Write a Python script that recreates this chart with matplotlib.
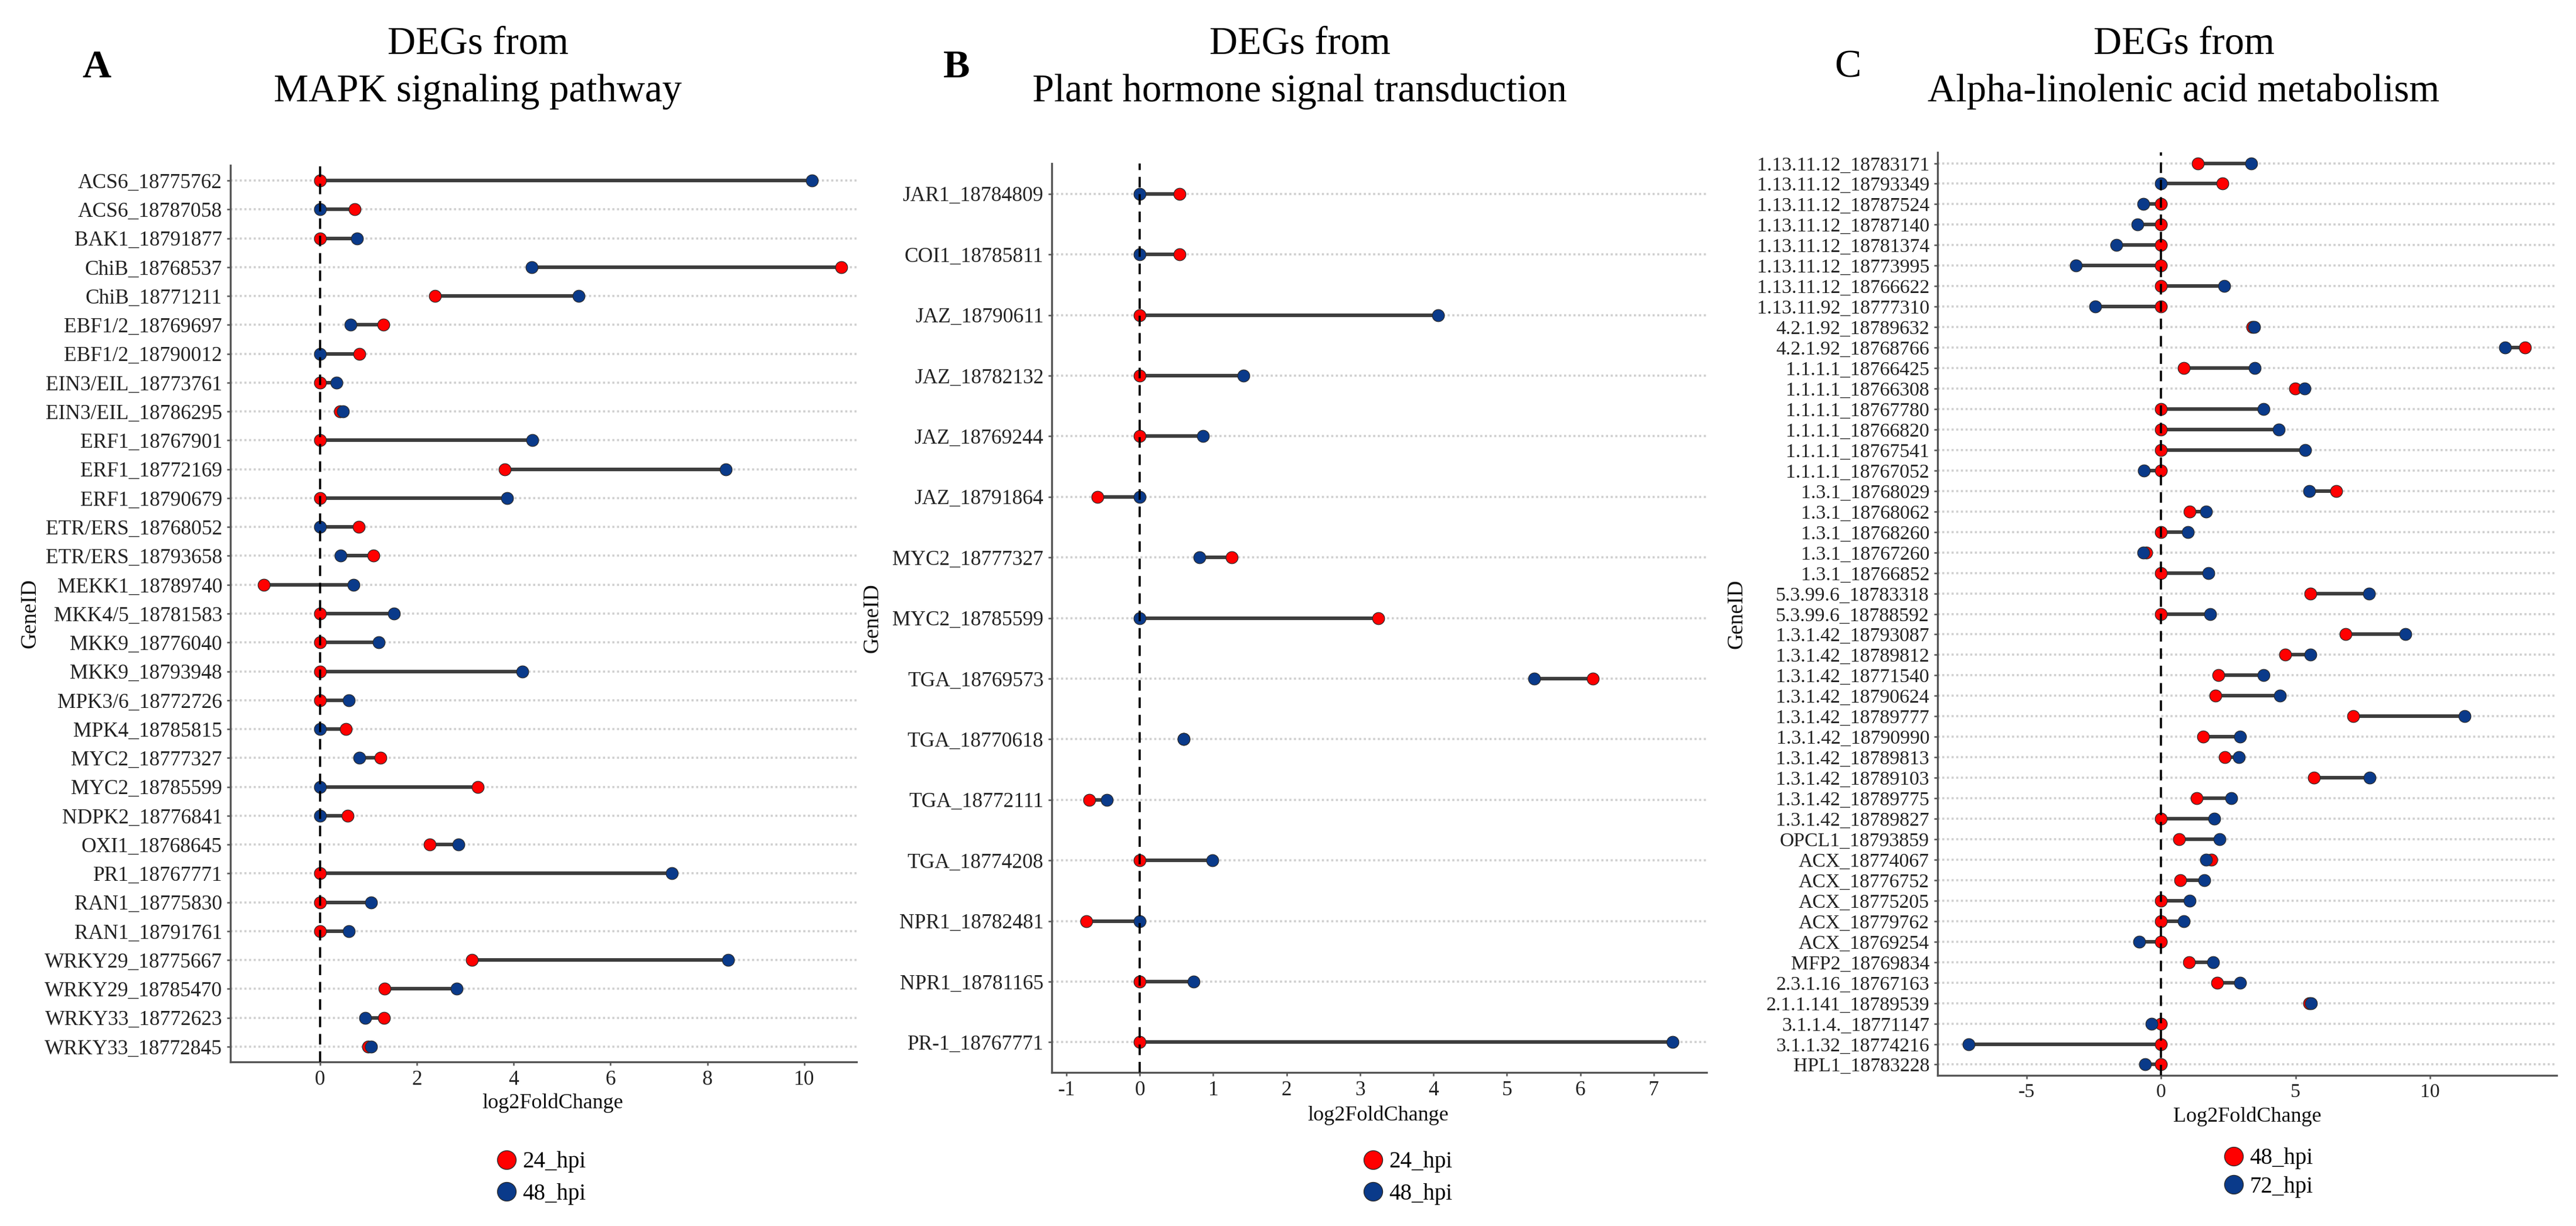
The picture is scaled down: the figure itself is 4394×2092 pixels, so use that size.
import numpy as np
import matplotlib
matplotlib.use('Agg')
import matplotlib.pyplot as plt
from matplotlib.lines import Line2D

plt.rcParams['font.family'] = ['Liberation Serif', 'DejaVu Serif']

# ---------------- data ----------------
genes_A = ["ACS6_18775762", "ACS6_18787058", "BAK1_18791877", "ChiB_18768537", "ChiB_18771211",
           "EBF1/2_18769697", "EBF1/2_18790012", "EIN3/EIL_18773761", "EIN3/EIL_18786295",
           "ERF1_18767901", "ERF1_18772169", "ERF1_18790679", "ETR/ERS_18768052", "ETR/ERS_18793658",
           "MEKK1_18789740", "MKK4/5_18781583", "MKK9_18776040", "MKK9_18793948", "MPK3/6_18772726",
           "MPK4_18785815", "MYC2_18777327", "MYC2_18785599", "NDPK2_18776841", "OXI1_18768645",
           "PR1_18767771", "RAN1_18775830", "RAN1_18791761", "WRKY29_18775667", "WRKY29_18785470",
           "WRKY33_18772623", "WRKY33_18772845"]
hpi24_A = [0.0, 0.72, 0.0, 10.76, 2.37, 1.31, 0.81, 0.0, 0.42, 0.0, 3.81, 0.0, 0.80, 1.10,
           -1.16, 0.0, 0.0, 0.0, 0.0, 0.54, 1.25, 3.26, 0.57, 2.27, 0.0, 0.0, 0.0, 3.14, 1.33,
           1.32, 1.00]
hpi48_A = [10.16, 0.0, 0.76, 4.37, 5.34, 0.63, 0.0, 0.34, 0.47, 4.39, 8.38, 3.87, 0.0, 0.43,
           0.69, 1.53, 1.21, 4.18, 0.59, 0.0, 0.81, 0.0, 0.0, 2.86, 7.27, 1.05, 0.59, 8.43, 2.82,
           0.93, 1.05]

genes_B = ["JAR1_18784809", "COI1_18785811", "JAZ_18790611", "JAZ_18782132", "JAZ_18769244",
           "JAZ_18791864", "MYC2_18777327", "MYC2_18785599", "TGA_18769573", "TGA_18770618",
           "TGA_18772111", "TGA_18774208", "NPR1_18782481", "NPR1_18781165", "PR-1_18767771"]
hpi24_B = [0.54, 0.54, 0.0, 0.0, 0.0, -0.58, 1.25, 3.25, 6.17, 0.60, -0.69, 0.0, -0.73, 0.0, 0.0]
hpi48_B = [0.0, 0.0, 4.06, 1.41, 0.86, 0.0, 0.81, 0.0, 5.37, 0.60, -0.45, 0.99, 0.0, 0.73, 7.26]

genes_C = ["1.13.11.12_18783171", "1.13.11.12_18793349", "1.13.11.12_18787524", "1.13.11.12_18787140",
           "1.13.11.12_18781374", "1.13.11.12_18773995", "1.13.11.12_18766622", "1.13.11.92_18777310",
           "4.2.1.92_18789632", "4.2.1.92_18768766", "1.1.1.1_18766425", "1.1.1.1_18766308",
           "1.1.1.1_18767780", "1.1.1.1_18766820", "1.1.1.1_18767541", "1.1.1.1_18767052",
           "1.3.1_18768029", "1.3.1_18768062", "1.3.1_18768260", "1.3.1_18767260", "1.3.1_18766852",
           "5.3.99.6_18783318", "5.3.99.6_18788592", "1.3.1.42_18793087", "1.3.1.42_18789812",
           "1.3.1.42_18771540", "1.3.1.42_18790624", "1.3.1.42_18789777", "1.3.1.42_18790990",
           "1.3.1.42_18789813", "1.3.1.42_18789103", "1.3.1.42_18789775", "1.3.1.42_18789827",
           "OPCL1_18793859", "ACX_18774067", "ACX_18776752", "ACX_18775205", "ACX_18779762",
           "ACX_18769254", "MFP2_18769834", "2.3.1.16_18767163", "2.1.1.141_18789539",
           "3.1.1.4._18771147", "3.1.1.32_18774216", "HPL1_18783228"]
hpi48_C = [1.37, 2.28, 0.0, 0.0, 0.0, 0.0, 0.0, 0.0, 3.40, 13.53, 0.85, 4.98, 0.0, 0.0, 0.0, 0.0,
           6.51, 1.06, 0.0, -0.55, 0.0, 5.56, 0.0, 6.85, 4.61, 2.14, 2.03, 7.14, 1.56, 2.37, 5.68,
           1.33, 0.0, 0.68, 1.87, 0.71, 0.0, 0.0, 0.0, 1.04, 2.10, 5.50, 0.0, 0.0, 0.0]
hpi72_C = [3.36, 0.0, -0.66, -0.87, -1.66, -3.15, 2.34, -2.45, 3.46, 12.78, 3.49, 5.33, 3.80, 4.38,
           5.35, -0.64, 5.50, 1.68, 1.00, -0.66, 1.76, 7.72, 1.83, 9.09, 5.56, 3.82, 4.42, 11.29,
           2.93, 2.90, 7.76, 2.61, 1.97, 2.18, 1.68, 1.62, 1.06, 0.85, -0.81, 1.93, 2.93, 5.58,
           -0.35, -7.14, -0.60]

titles = ["MAPK signaling pathway", "Plant hormone signal transduction", "Alpha-linolenic acid metabolism"]
panel_letters = ["A", "B", "C"]
legend_A = ["24_hpi", "48_hpi"]
legend_B = ["24_hpi", "48_hpi"]
legend_C = ["48_hpi", "72_hpi"]
xlabels = ["log2FoldChange", "log2FoldChange", "Log2FoldChange"]

RED = '#FF0000'
BLUE = '#0A3A8A'

W, H = 4394, 2092
DPI = 100
fig = plt.figure(figsize=(W / DPI, H / DPI), dpi=DPI)


def rect(l, t, r, b):
    return [l / W, 1 - b / H, (r - l) / W, (b - t) / H]


def fx(x):
    return x / W


def fy(y):
    return 1 - y / H


def panel(box, genes, v1, v2, xlim, xticks, pad, fs):
    ax = fig.add_axes(rect(*box))
    n = len(genes)
    y = np.arange(n)
    v1 = np.asarray(v1)
    v2 = np.asarray(v2)
    ax.set_xlim(*xlim)
    ax.set_ylim(n - 1 + pad, -pad)
    ax.set_yticks(y)
    ax.set_yticklabels(genes)
    ax.set_xticks(xticks)
    ax.set_xticklabels([str(t) for t in xticks])
    ax.grid(axis='y', color='#cfcfcf', lw=2.6, ls=(0, (1.0, 1.2)), zorder=0)
    ax.set_axisbelow(True)
    ax.hlines(y, np.minimum(v1, v2), np.maximum(v1, v2), color='#3d3d3d', lw=4.4, zorder=2,
              capstyle='butt')
    ax.scatter(v1, y, s=220, c=RED, edgecolors='#2a2a2a', linewidths=0.9, zorder=3)
    ax.scatter(v2, y, s=220, c=BLUE, edgecolors='#2a2a2a', linewidths=0.9, zorder=4)
    ax.axvline(0, color='black', lw=2.6, ls=(0, (5, 3.2)), zorder=5)
    for s in ['top', 'right']:
        ax.spines[s].set_visible(False)
    for s in ['left', 'bottom']:
        ax.spines[s].set_color('#555555')
        ax.spines[s].set_linewidth(2.4)
    ax.tick_params(axis='both', which='major', length=4, width=1.8, color='#555555',
                   labelcolor='#222222', labelsize=fs, pad=6)
    return ax


axA = panel((393, 282, 1461, 1812), genes_A, hpi24_A, hpi48_A, (-1.85, 11.08),
            [0, 2, 4, 6, 8, 10], 0.53, 25.5)
axB = panel((1794, 279, 2911, 1830), genes_B, hpi24_B, hpi48_B, (-1.20, 7.72),
            [-1, 0, 1, 2, 3, 4, 5, 6, 7], 0.5, 25.5)
axC = panel((3305, 260, 4361, 1835), genes_C, hpi48_C, hpi72_C, (-8.30, 14.70),
            [-5, 0, 5, 10], 0.53, 24.3)

# titles
title_x = [815, 2217, 3725]
for tx, t in zip(title_x, titles):
    fig.text(fx(tx), fy(92), "DEGs from", ha='center', va='baseline', fontsize=48)
    fig.text(fx(tx), fy(173), t, ha='center', va='baseline', fontsize=48)

# panel letters
letter_x = [165, 1632, 3152]
weights = ['bold', 'bold', 'normal']
for lx, L, wgt in zip(letter_x, panel_letters, weights):
    fig.text(fx(lx), fy(132), L, ha='center', va='baseline', fontsize=49, fontweight=wgt)

# y labels
for gx, ax in zip([51, 1488, 2962], [axA, axB, axC]):
    pos = ax.get_position()
    fig.text(fx(gx), pos.y0 + pos.height / 2, "GeneID", rotation=90, ha='center', va='center',
             fontsize=27, color='#111111')

# x labels
for (lx, ly), lab in zip([(943, 1882), (2351, 1903), (3833, 1905)], xlabels):
    fig.text(fx(lx), fy(ly), lab, ha='center', va='center', fontsize=26, color='#111111')

# legends
for ax, labs, (cx, cy), sp in zip([axA, axB, axC], [legend_A, legend_B, legend_C],
                                  [(923, 2010), (2401, 2010), (3869, 2001)], [0.45, 0.45, 0.3]):
    handles = [Line2D([], [], marker='o', ls='', markersize=23, markerfacecolor=RED,
                      markeredgecolor='#2a2a2a', markeredgewidth=1.0, label=labs[0]),
               Line2D([], [], marker='o', ls='', markersize=23, markerfacecolor=BLUE,
                      markeredgecolor='#2a2a2a', markeredgewidth=1.0, label=labs[1])]
    ax.legend(handles=handles, loc='center', bbox_to_anchor=(fx(cx), fy(cy)),
              bbox_transform=fig.transFigure, frameon=False, fontsize=28,
              handlelength=0.9, handletextpad=0.25, labelspacing=sp, borderpad=0,
              borderaxespad=0)

fig.savefig('out.png', dpi=DPI, facecolor='white')
